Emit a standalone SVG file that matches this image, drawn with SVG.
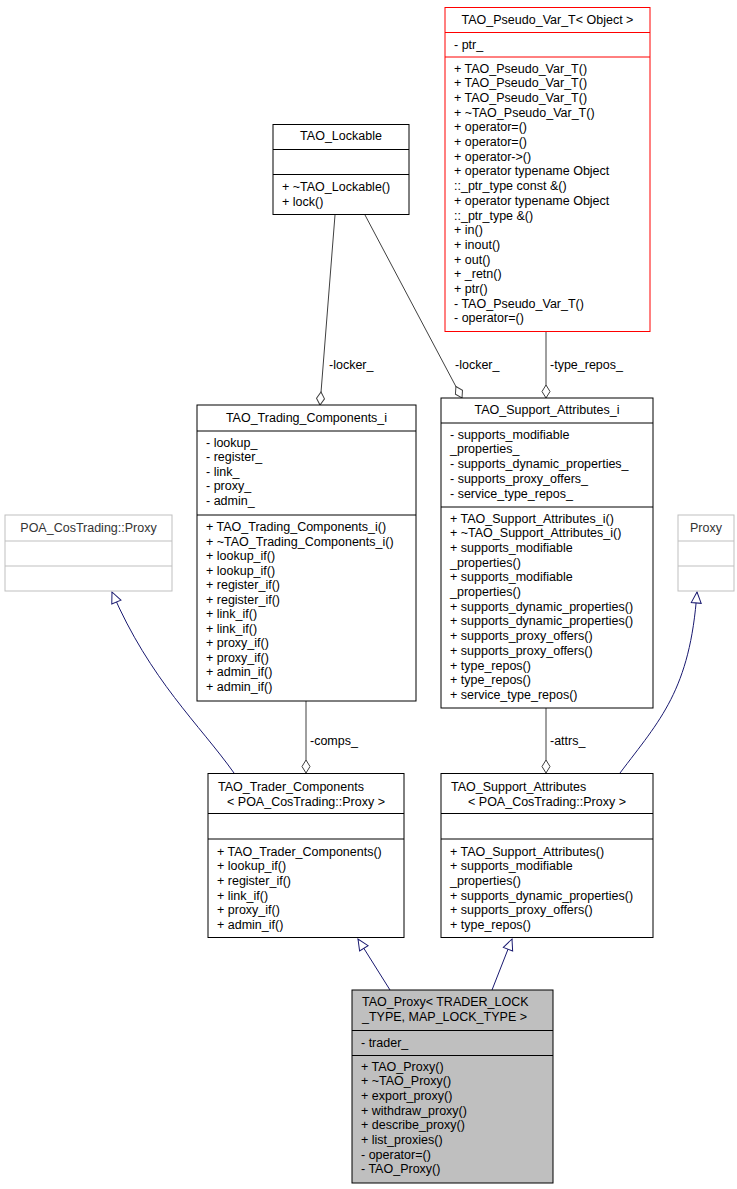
<svg xmlns="http://www.w3.org/2000/svg" width="737" height="1189" viewBox="0 0 737 1189">
<style>
text{font-family:"Liberation Sans",Arial,sans-serif;font-size:12.5px;fill:#000}
.b{fill:#fff;stroke:#000;stroke-width:1}
.r{fill:#fff;stroke:#ff0000;stroke-width:1}
.g{fill:#fff;stroke:#bfbfbf;stroke-width:1}
.gt{fill:#333}
.p{fill:#bfbfbf;stroke:#000;stroke-width:1}
.c{text-anchor:middle}
.e{fill:none;stroke:#404040;stroke-width:1}
.i{fill:none;stroke:#191970;stroke-width:1}
</style>
<defs>
<marker id="dia" markerWidth="16" markerHeight="10" refX="14" refY="5" orient="auto" markerUnits="userSpaceOnUse"><path d="M1,5 L7.5,1 L14,5 L7.5,9 Z" fill="#fff" stroke="#404040"/></marker>
<marker id="tri" markerWidth="14" markerHeight="12" refX="12" refY="6" orient="auto" markerUnits="userSpaceOnUse"><path d="M1,1 L12,6 L1,11 Z" fill="#fff" stroke="#191970"/></marker>
</defs>
<g id="connectors">
<path class="e" d="M335,215 L320,405" marker-end="url(#dia)"/>
<text x="329" y="369">-locker_</text>
<path class="e" d="M365,215 L462,398" marker-end="url(#dia)"/>
<text x="455" y="369">-locker_</text>
<path class="e" d="M546,332 L546,398" marker-end="url(#dia)"/>
<text x="550" y="369">-type_repos_</text>
<path class="e" d="M306,701 L306,773" marker-end="url(#dia)"/>
<text x="310" y="745">-comps_</text>
<path class="e" d="M546,708 L546,773" marker-end="url(#dia)"/>
<text x="550" y="745">-attrs_</text>
<path class="i" d="M234,773 C200,725 150,680 112,592" marker-end="url(#tri)"/>
<path class="i" d="M620,773 C660,720 690,690 697,592" marker-end="url(#tri)"/>
<path class="i" d="M390,990 L358,939" marker-end="url(#tri)"/>
<path class="i" d="M492,990 L512,939" marker-end="url(#tri)"/>
</g>
<g id="TAO_Pseudo_Var_T">
<rect class="r" x="445" y="7.5" width="205" height="324"/>
<path d="M445,32.5 H650 M445,57 H650" stroke="#ff0000"/>
<text class="c" x="547.5" y="24">TAO_Pseudo_Var_T&lt; Object &gt;</text>
<text x="454" y="49">- ptr_</text>
<text x="454" y="72.5">+ TAO_Pseudo_Var_T()</text>
<text x="454" y="87.2">+ TAO_Pseudo_Var_T()</text>
<text x="454" y="101.9">+ TAO_Pseudo_Var_T()</text>
<text x="454" y="116.6">+ ~TAO_Pseudo_Var_T()</text>
<text x="454" y="131.3">+ operator=()</text>
<text x="454" y="146">+ operator=()</text>
<text x="454" y="160.7">+ operator-&gt;()</text>
<text x="454" y="175.4">+ operator typename Object</text>
<text x="454" y="190.1">::_ptr_type const &amp;()</text>
<text x="454" y="204.8">+ operator typename Object</text>
<text x="454" y="219.5">::_ptr_type &amp;()</text>
<text x="454" y="234.2">+ in()</text>
<text x="454" y="248.9">+ inout()</text>
<text x="454" y="263.6">+ out()</text>
<text x="454" y="278.3">+ _retn()</text>
<text x="454" y="293">+ ptr()</text>
<text x="454" y="307.7">- TAO_Pseudo_Var_T()</text>
<text x="454" y="322.4">- operator=()</text>
</g>
<g id="TAO_Lockable">
<rect class="b" x="273" y="124.5" width="136" height="90"/>
<path d="M273,149.5 H409 M273,174.5 H409" stroke="#000"/>
<text class="c" x="341" y="140">TAO_Lockable</text>
<text x="282" y="191">+ ~TAO_Lockable()</text>
<text x="282" y="205.5">+ lock()</text>
</g>
<g id="TAO_Trading_Components_i">
<rect class="b" x="197" y="405" width="219" height="296"/>
<path d="M197,431 H416 M197,515 H416" stroke="#000"/>
<text class="c" x="306.5" y="422">TAO_Trading_Components_i</text>
<text x="206" y="446.5">- lookup_</text>
<text x="206" y="461">- register_</text>
<text x="206" y="475.5">- link_</text>
<text x="206" y="490">- proxy_</text>
<text x="206" y="504.5">- admin_</text>
<text x="206" y="531">+ TAO_Trading_Components_i()</text>
<text x="206" y="545.5">+ ~TAO_Trading_Components_i()</text>
<text x="206" y="560">+ lookup_if()</text>
<text x="206" y="574.5">+ lookup_if()</text>
<text x="206" y="589">+ register_if()</text>
<text x="206" y="603.5">+ register_if()</text>
<text x="206" y="618">+ link_if()</text>
<text x="206" y="632.5">+ link_if()</text>
<text x="206" y="647">+ proxy_if()</text>
<text x="206" y="661.5">+ proxy_if()</text>
<text x="206" y="676">+ admin_if()</text>
<text x="206" y="690.5">+ admin_if()</text>
</g>
<g id="TAO_Support_Attributes_i">
<rect class="b" x="441" y="398" width="212" height="310"/>
<path d="M441,423 H653 M441,507 H653" stroke="#000"/>
<text class="c" x="547" y="414">TAO_Support_Attributes_i</text>
<text x="450" y="438.5">- supports_modifiable</text>
<text x="450" y="453.3">_properties_</text>
<text x="450" y="468.1">- supports_dynamic_properties_</text>
<text x="450" y="482.9">- supports_proxy_offers_</text>
<text x="450" y="497.7">- service_type_repos_</text>
<text x="450" y="522.5">+ TAO_Support_Attributes_i()</text>
<text x="450" y="537.2">+ ~TAO_Support_Attributes_i()</text>
<text x="450" y="551.9">+ supports_modifiable</text>
<text x="450" y="566.6">_properties()</text>
<text x="450" y="581.3">+ supports_modifiable</text>
<text x="450" y="596">_properties()</text>
<text x="450" y="610.7">+ supports_dynamic_properties()</text>
<text x="450" y="625.4">+ supports_dynamic_properties()</text>
<text x="450" y="640.1">+ supports_proxy_offers()</text>
<text x="450" y="654.8">+ supports_proxy_offers()</text>
<text x="450" y="669.5">+ type_repos()</text>
<text x="450" y="684.2">+ type_repos()</text>
<text x="450" y="698.9">+ service_type_repos()</text>
</g>
<g id="POA_CosTrading_Proxy">
<rect class="g" x="5" y="515" width="167" height="76"/>
<path d="M5,541 H172 M5,566 H172" stroke="#bfbfbf"/>
<text class="c gt" x="88.5" y="531.5">POA_CosTrading::Proxy</text>
</g>
<g id="Proxy">
<rect class="g" x="678" y="515" width="56" height="76"/>
<path d="M678,541 H734 M678,566 H734" stroke="#bfbfbf"/>
<text class="c gt" x="706" y="531.5">Proxy</text>
</g>
<g id="TAO_Trader_Components">
<rect class="b" x="208" y="773.5" width="196" height="164"/>
<path d="M208,813.5 H404 M208,839 H404" stroke="#000"/>
<text x="218" y="790.5">TAO_Trader_Components</text>
<text class="c" x="306" y="805.5">&lt; POA_CosTrading::Proxy &gt;</text>
<text x="217" y="855.5">+ TAO_Trader_Components()</text>
<text x="217" y="870.2">+ lookup_if()</text>
<text x="217" y="884.9">+ register_if()</text>
<text x="217" y="899.6">+ link_if()</text>
<text x="217" y="914.3">+ proxy_if()</text>
<text x="217" y="929">+ admin_if()</text>
</g>
<g id="TAO_Support_Attributes">
<rect class="b" x="441" y="773.5" width="212" height="164"/>
<path d="M441,813.5 H653 M441,839 H653" stroke="#000"/>
<text x="451" y="790.5">TAO_Support_Attributes</text>
<text class="c" x="547" y="805.5">&lt; POA_CosTrading::Proxy &gt;</text>
<text x="450" y="855.5">+ TAO_Support_Attributes()</text>
<text x="450" y="870.2">+ supports_modifiable</text>
<text x="450" y="884.9">_properties()</text>
<text x="450" y="899.6">+ supports_dynamic_properties()</text>
<text x="450" y="914.3">+ supports_proxy_offers()</text>
<text x="450" y="929">+ type_repos()</text>
</g>
<g id="TAO_Proxy">
<rect class="p" x="352" y="990" width="201" height="193"/>
<path d="M352,1030.5 H553 M352,1055.5 H553" stroke="#000"/>
<text x="362" y="1005.5">TAO_Proxy&lt; TRADER_LOCK</text>
<text x="362" y="1020.5">_TYPE, MAP_LOCK_TYPE &gt;</text>
<text x="361" y="1046.5">- trader_</text>
<text x="361" y="1070.5">+ TAO_Proxy()</text>
<text x="361" y="1085.2">+ ~TAO_Proxy()</text>
<text x="361" y="1099.9">+ export_proxy()</text>
<text x="361" y="1114.6">+ withdraw_proxy()</text>
<text x="361" y="1129.3">+ describe_proxy()</text>
<text x="361" y="1144">+ list_proxies()</text>
<text x="361" y="1158.7">- operator=()</text>
<text x="361" y="1173.4">- TAO_Proxy()</text>
</g>
</svg>
